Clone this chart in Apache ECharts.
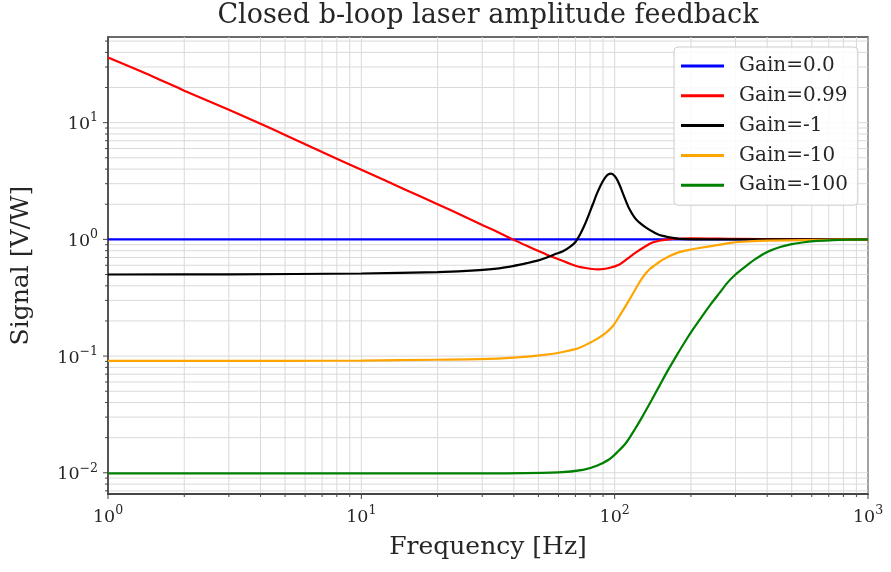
<!DOCTYPE html>
<html>
<head>
<meta charset="utf-8">
<script src="https://cdn.jsdelivr.net/npm/echarts@6/dist/echarts.min.js"></script>
<style>html,body{margin:0;padding:0;background:#fff}#c{width:891px;height:572px}</style>
</head>
<body>
<div id="c"></div>
<script>
// ---- data ----
const freqBlue = [1, 10, 100, 1000];
const gain0 = [1, 1, 1, 1];

const freqRed = [1, 1.5, 2, 3, 4, 5, 7, 10, 15, 20, 25, 30, 35, 40, 45, 50, 53.7, 60, 70.5, 80, 87, 95, 104.5, 112, 121, 131, 141, 155, 170, 200, 300, 500, 1000];
const gain099 = [36.1, 24.9, 18.8, 12.9, 9.8, 7.85, 5.6, 3.95, 2.65, 2.0, 1.6, 1.33, 1.14, 0.99, 0.88, 0.795, 0.743, 0.676, 0.591, 0.56, 0.553, 0.568, 0.61, 0.68, 0.77, 0.86, 0.94, 0.985, 1.01, 1.02, 1.01, 1.003, 1.0];

const freqBlack = [1, 3, 10, 20, 29.3, 35, 39.6, 45, 50, 53.7, 58, 62.5, 67, 70, 73, 76, 79, 82, 85, 88, 91, 94, 97, 100, 103, 106, 109.4, 114.5, 121.6, 133, 145, 155, 180, 250, 500, 1000];
const gainM1 = [0.5, 0.502, 0.51, 0.525, 0.545, 0.565, 0.59, 0.625, 0.66, 0.697, 0.745, 0.79, 0.87, 0.95, 1.1, 1.32, 1.62, 2.0, 2.45, 2.9, 3.3, 3.58, 3.66, 3.49, 3.15, 2.72, 2.28, 1.81, 1.48, 1.26, 1.13, 1.07, 1.01, 1.0, 1.0, 1.0];

const freqOrange = [1, 5, 10, 20, 29.3, 40, 53.7, 63, 72.6, 84.6, 92, 98.4, 106, 114.5, 123, 128, 133, 138, 144, 150, 155, 165, 180, 195, 210, 244, 293, 340, 400, 550, 750, 1000];
const gainM10 = [0.0909, 0.091, 0.0915, 0.093, 0.094, 0.097, 0.103, 0.109, 0.118, 0.139, 0.157, 0.181, 0.232, 0.306, 0.40, 0.46, 0.515, 0.56, 0.60, 0.64, 0.67, 0.72, 0.778, 0.81, 0.835, 0.88, 0.937, 0.96, 0.975, 0.987, 0.994, 0.997];

const freqGreen = [1, 10, 30, 60, 75, 85, 95, 103, 111, 120, 129, 140, 150, 162, 175, 190, 204, 220, 240, 260, 280, 300, 330, 360, 400, 450, 500, 560, 630, 730, 850, 1000];
const gainM100 = [0.0099, 0.0099, 0.0099, 0.0101, 0.0106, 0.0115, 0.013, 0.0152, 0.0181, 0.0235, 0.0306, 0.042, 0.0553, 0.075, 0.1, 0.134, 0.17, 0.215, 0.28, 0.35, 0.43, 0.50, 0.59, 0.68, 0.78, 0.86, 0.91, 0.945, 0.97, 0.986, 0.993, 0.997];

const seriesNames = ['Gain=0.0', 'Gain=0.99', 'Gain=-1', 'Gain=-10', 'Gain=-100'];
const xMajor = [1, 10, 100, 1000];
const yMajor = [0.01, 0.1, 1, 10];
const xMinor = [2,3,4,5,6,7,8,9,20,30,40,50,60,70,80,90,200,300,400,500,600,700,800,900];
const yMinor = [0.007,0.008,0.009,0.02,0.03,0.04,0.05,0.06,0.07,0.08,0.09,0.2,0.3,0.4,0.5,0.6,0.7,0.8,0.9,2,3,4,5,6,7,8,9,20,30,40,50];

// ---- chart ----
const X_MIN = 1, X_MAX = 1000, Y_MIN = 0.00658, Y_MAX = 54.2;
const FONT = "'DejaVu Serif', serif";
const zip = (xs, ys) => xs.map((x, i) => [x, ys[i]]);
const sup = e => (e < 0 ? '\u2212' + (-e) : String(e));
const powLabel = v => '{b|10}{s|' + sup(Math.round(Math.log10(v))) + '}';

const gridCol = '#dadada';
function vLines(isMajor){
  return function(params, api){
    const v = api.value(0);
    const t = api.coord([v, Y_MAX]);
    const b = api.coord([v, Y_MIN]);
    return {type:'group', children:[
      {type:'line', shape:{x1:t[0],y1:t[1],x2:b[0],y2:b[1]}, style:{stroke:gridCol, lineWidth:1}},
      {type:'line', shape:{x1:b[0],y1:b[1],x2:b[0],y2:b[1]+(isMajor?5:3)}, style:{stroke:'#444', lineWidth:1}}
    ]};
  };
}
function hLines(isMajor){
  return function(params, api){
    const v = api.value(1);
    const l = api.coord([X_MIN, v]);
    const r = api.coord([X_MAX, v]);
    return {type:'group', children:[
      {type:'line', shape:{x1:l[0],y1:l[1],x2:r[0],y2:r[1]}, style:{stroke:gridCol, lineWidth:1}},
      {type:'line', shape:{x1:l[0]-(isMajor?5:3),y1:l[1],x2:l[0],y2:l[1]}, style:{stroke:'#444', lineWidth:1}}
    ]};
  };
}
const gridSeries = [
  {type:'custom', silent:true, clip:false, z:0, renderItem:vLines(false), data:xMinor.map(v=>[v,1]), encode:{x:0,y:1}},
  {type:'custom', silent:true, clip:false, z:0, renderItem:vLines(true), data:xMajor.map(v=>[v,1]), encode:{x:0,y:1}},
  {type:'custom', silent:true, clip:false, z:0, renderItem:hLines(false), data:yMinor.map(v=>[10,v]), encode:{x:0,y:1}},
  {type:'custom', silent:true, clip:false, z:0, renderItem:hLines(true), data:yMajor.map(v=>[10,v]), encode:{x:0,y:1}}
];

const colors = ['#0000ff', '#ff0000', '#000000', '#ffa500', '#008000'];
const lineData = [zip(freqBlue, gain0), zip(freqRed, gain099), zip(freqBlack, gainM1), zip(freqOrange, gainM10), zip(freqGreen, gainM100)];
const lineSeries = seriesNames.map((n, i) => ({
  name: n, type: 'line', data: lineData[i], showSymbol: false, symbol: 'none',
  smooth: 0.3, z: 5,
  lineStyle: {color: colors[i], width: 2.2}, itemStyle: {color: colors[i]}
}));

const richLabel = {
  b: {fontSize: 17.5, fontFamily: FONT, color: '#262626', lineHeight: 22, verticalAlign: 'bottom'},
  s: {fontSize: 12.5, fontFamily: FONT, color: '#262626', lineHeight: 22, verticalAlign: 'top'}
};

const chart = echarts.init(document.getElementById('c'), null, {renderer: 'canvas'});
chart.setOption({
  animation: false,
  backgroundColor: '#ffffff',
  title: {
    text: 'Closed b-loop laser amplitude feedback',
    left: 488, top: 2, textAlign: 'center', padding: 0,
    textStyle: {fontFamily: FONT, fontWeight: 'normal', fontSize: 27, color: '#262626'}
  },
  grid: {left: 108, right: 23, top: 37, bottom: 78, show: true, borderColor: '#3a3a3a', borderWidth: 1.5, backgroundColor: 'transparent'},
  legend: {
    data: seriesNames, orient: 'vertical', left: 674, top: 47,
    icon: 'rect', itemWidth: 43, itemHeight: 3, itemGap: 9.8,
    padding: [9, 10, 10, 7],
    backgroundColor: 'rgba(255,255,255,0.85)', borderColor: '#cccccc', borderWidth: 1, borderRadius: 4,
    textStyle: {fontFamily: FONT, fontSize: 20, color: '#262626', lineHeight: 20, padding: [0, 0, 0, 10]}
  },
  xAxis: {
    type: 'log', logBase: 10, min: X_MIN, max: X_MAX,
    name: 'Frequency [Hz]', nameLocation: 'middle', nameGap: 41,
    nameTextStyle: {fontFamily: FONT, fontSize: 25, color: '#262626'},
    axisLine: {show: true, lineStyle: {color: '#3a3a3a', width: 1.5}},
    axisTick: {show: false}, splitLine: {show: false},
    axisLabel: {formatter: powLabel, rich: richLabel, margin: 10}
  },
  yAxis: {
    type: 'log', logBase: 10, min: Y_MIN, max: Y_MAX,
    name: 'Signal [V/W]', nameLocation: 'middle', nameGap: 74, nameRotate: 90,
    nameTextStyle: {fontFamily: FONT, fontSize: 25, color: '#262626'},
    axisLine: {show: true, lineStyle: {color: '#3a3a3a', width: 1.5}},
    axisTick: {show: false}, splitLine: {show: false},
    axisLabel: {formatter: powLabel, rich: richLabel, margin: 10, showMinLabel: false, showMaxLabel: false}
  },
  series: gridSeries.concat(lineSeries)
});
</script>
</body>
</html>
